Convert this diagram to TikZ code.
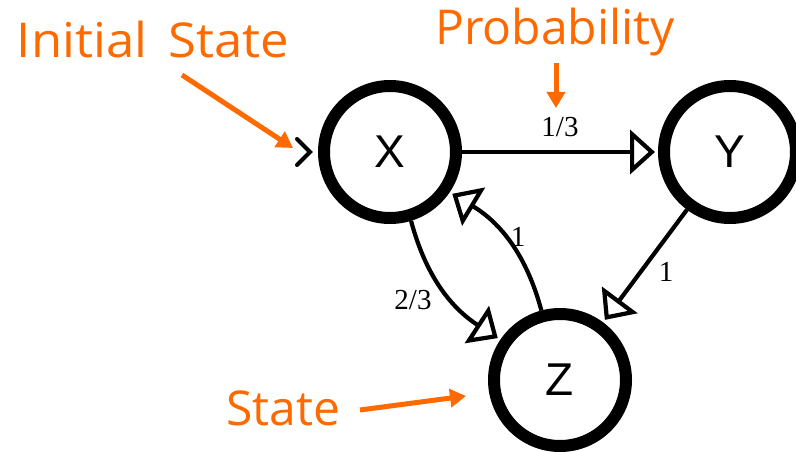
\documentclass[tikz,border=0pt]{standalone}
\usepackage{fontspec}
\setmainfont{Liberation Serif}
\newfontfamily\statefont{Liberation Sans}
\newfontfamily\notefont[WordSpace=1.6]{Open Sans}
\newfontfamily\widenotefont[WordSpace=1.6,FakeStretch=1.06]{Open Sans}
\usetikzlibrary{arrows.meta,calc}
\definecolor{noteorange}{HTML}{FF6A00}
\tikzset{
  state/.style={circle, draw=black, line width=12pt, minimum size=132pt, inner sep=0pt, font=\statefont\fontsize{46}{46}\selectfont},
  openhead/.tip={Triangle[open, length=25pt, width=44pt]},
  trans/.style={line width=4.2pt, -openhead, shorten >=3pt},
  prob/.style={font=\fontsize{29}{29}\selectfont},
  note/.style={text=noteorange, font=\notefont\fontsize{48}{48}\selectfont},
  notearrow/.style={draw=noteorange, line width=5pt, -{Triangle[length=16pt, width=18pt]}}
}
\begin{document}
\begin{tikzpicture}[x=1pt,y=1pt]
\useasboundingbox (0,0) rectangle (796,451);
\clip (0,0) rectangle (796,451);
\node[state] (X) at (390,299) {X};
\node[state] (Y) at (730,299) {Y};
\node[state] (Z) at (560,71) {Z};
\draw[trans] (X.east) -- (Y.west);
\draw[trans] (Y) -- (Z);
\draw[trans] (X.-73) to[out=-75, in=147] (Z.146);
\draw[trans] (Z.105) to[out=105, in=-31] (X.-34);
\node[prob] (p13) at (560,324) {1/3};
\node[prob] (p1a) at (666,179) {1};
\node[prob] (p23) at (413,151) {2/3};
\node[prob] (p1b) at (518,214) {1};
\draw[line width=4pt, line cap=round, line join=miter] ($(X.west)+(-21,13)$) -- ($(X.west)+(-8,0)$) -- ($(X.west)+(-21,-13)$);
\node[note, font=\widenotefont\fontsize{48}{48}\selectfont] (init) at (153,411) {Initial State};
\node[note] (probn) at (555,419) {Probability};
\node[note] (staten) at (283,43) {State};
\coordinate (initend) at (293,303);
\coordinate (probend) at (556,343);
\coordinate (stateend) at (466,55);
\draw[notearrow] (182,376) -- (initend);
\draw[notearrow] (556,388) -- (probend);
\draw[notearrow] (360,41) -- (stateend);
\end{tikzpicture}
\end{document}
